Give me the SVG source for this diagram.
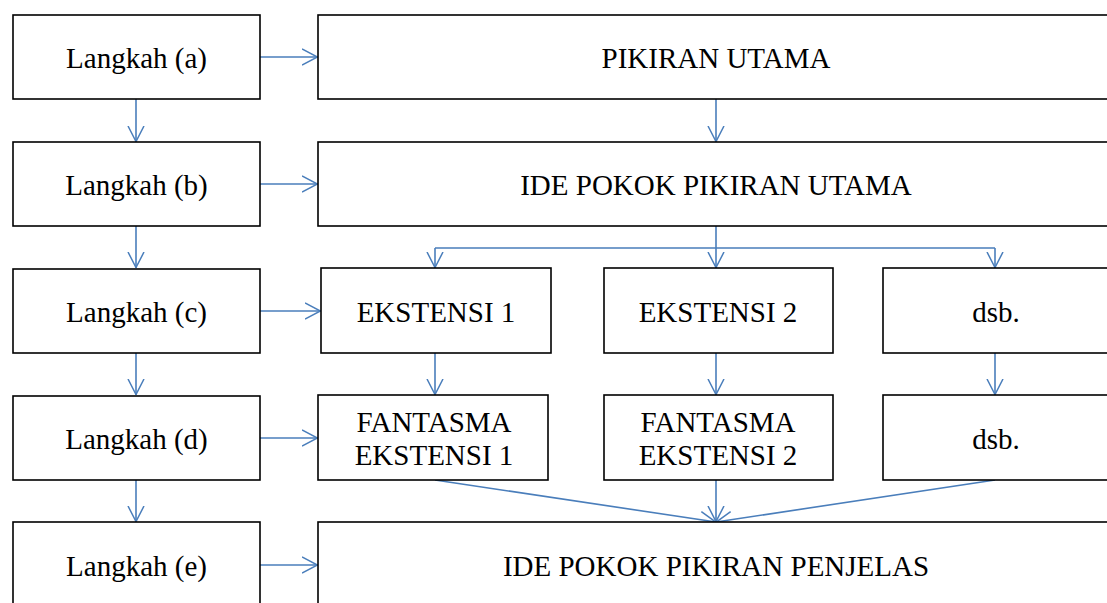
<svg xmlns="http://www.w3.org/2000/svg" width="1107" height="603" viewBox="0 0 1107 603">
<defs>
<marker id="ah" viewBox="0 0 16 18" refX="16" refY="9" markerWidth="16" markerHeight="18" markerUnits="userSpaceOnUse" orient="auto">
<path d="M0,1 L15.5,9 L0,17" fill="none" stroke="#4a7ebb" stroke-width="1.5"/>
</marker>
<style>
.box{fill:#fff;stroke:#000;stroke-width:1.6}
.t{font-family:"Liberation Serif","Times New Roman",serif;font-size:29px;fill:#000;text-anchor:middle}
.c{fill:none;stroke:#4a7ebb;stroke-width:1.6;marker-end:url(#ah)}
.l{fill:none;stroke:#4a7ebb;stroke-width:1.6}
</style>
</defs>
<rect width="1107" height="603" fill="#fff"/>
<g id="connectors">
<path class="c" d="M260,57 H318"/>
<path class="c" d="M260,184 H318"/>
<path class="c" d="M260,311 H321"/>
<path class="c" d="M260,438 H318"/>
<path class="c" d="M260,565 H318"/>
<path class="c" d="M136,99 V142"/>
<path class="c" d="M136,226 V268"/>
<path class="c" d="M136,353 V395"/>
<path class="c" d="M136,480 V522"/>
<path class="c" d="M716,99 V142"/>
<path class="l" d="M716,226 V248 M435,248 H995"/>
<path class="c" d="M435,248 V268"/>
<path class="c" d="M716,248 V268"/>
<path class="c" d="M995,248 V268"/>
<path class="c" d="M435,353 V395"/>
<path class="c" d="M716,353 V395"/>
<path class="c" d="M995,353 V395"/>
<path class="c" d="M435,480 L716,522"/>
<path class="c" d="M716,480 V522"/>
<path class="c" d="M995,480 L716,522"/>
</g>
<g id="langkah-a"><rect class="box" x="13" y="15" width="247" height="84"/><text class="t" x="136.5" y="68">Langkah (a)</text></g>
<g id="langkah-b"><rect class="box" x="13" y="142" width="247" height="84"/><text class="t" x="136.5" y="195">Langkah (b)</text></g>
<g id="langkah-c"><rect class="box" x="13" y="269" width="247" height="84"/><text class="t" x="136.5" y="322">Langkah (c)</text></g>
<g id="langkah-d"><rect class="box" x="13" y="396" width="247" height="84"/><text class="t" x="136.5" y="449">Langkah (d)</text></g>
<g id="langkah-e"><rect class="box" x="13" y="522" width="247" height="90"/><text class="t" x="136.5" y="576">Langkah (e)</text></g>
<g id="pikiran-utama"><rect class="box" x="318" y="15" width="800" height="84"/><text class="t" x="716" y="68">PIKIRAN UTAMA</text></g>
<g id="ide-pokok"><rect class="box" x="318" y="142" width="800" height="84"/><text class="t" x="716" y="195">IDE POKOK PIKIRAN UTAMA</text></g>
<g id="ekstensi-1"><rect class="box" x="321" y="268" width="230" height="85"/><text class="t" x="436" y="322">EKSTENSI 1</text></g>
<g id="ekstensi-2"><rect class="box" x="604" y="268" width="229" height="85"/><text class="t" x="718" y="322">EKSTENSI 2</text></g>
<g id="dsb-1"><rect class="box" x="883" y="268" width="240" height="85"/><text class="t" x="996" y="322">dsb.</text></g>
<g id="fantasma-1"><rect class="box" x="318" y="395" width="230" height="85"/><text class="t" x="434" y="432">FANTASMA</text><text class="t" x="434" y="465">EKSTENSI 1</text></g>
<g id="fantasma-2"><rect class="box" x="604" y="395" width="229" height="85"/><text class="t" x="718" y="432">FANTASMA</text><text class="t" x="718" y="465">EKSTENSI 2</text></g>
<g id="dsb-2"><rect class="box" x="883" y="395" width="240" height="85"/><text class="t" x="996" y="449">dsb.</text></g>
<g id="ide-pokok-penjelas"><rect class="box" x="318" y="522" width="800" height="90"/><text class="t" x="716" y="576">IDE POKOK PIKIRAN PENJELAS</text></g>
</svg>
